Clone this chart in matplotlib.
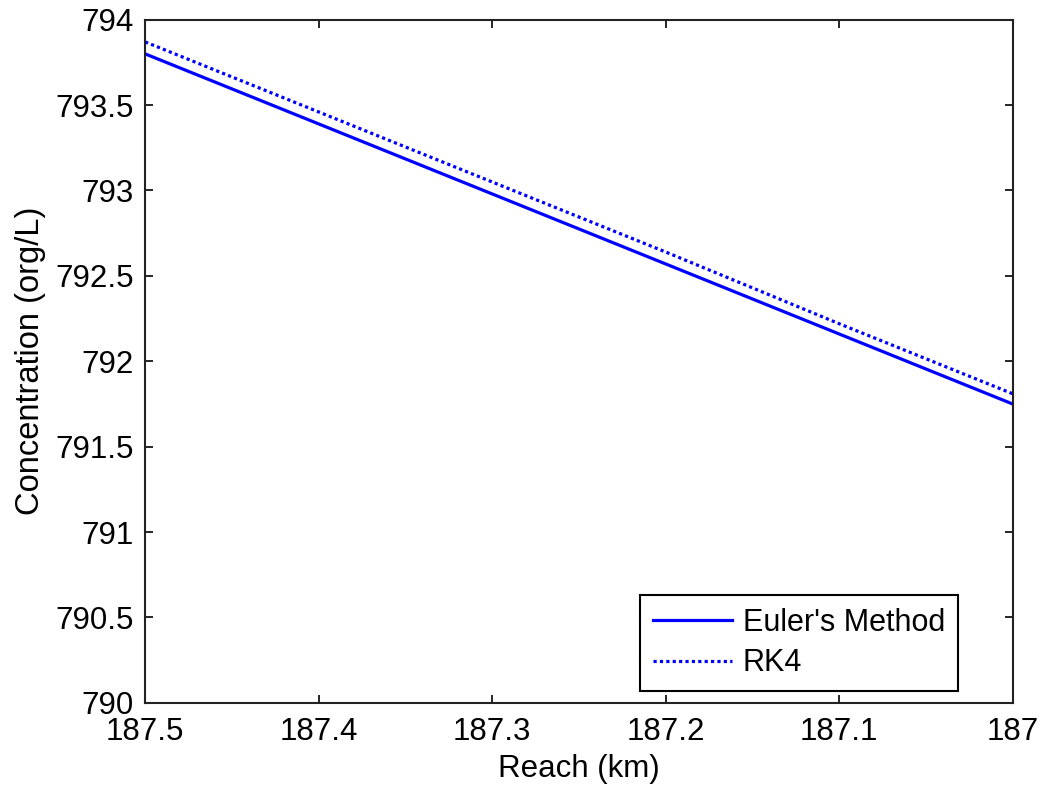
import matplotlib
matplotlib.use("Agg")
import matplotlib.pyplot as plt

plt.rcParams['font.family'] = ['Liberation Sans', 'DejaVu Sans']

reach_km = [187.5, 187.4, 187.3, 187.2, 187.1, 187.0]
euler = [793.80, 793.39, 792.98, 792.57, 792.16, 791.75]
rk4 = [793.87, 793.46, 793.05, 792.64, 792.22, 791.81]
xticks = [187.5, 187.4, 187.3, 187.2, 187.1, 187.0]
xticklabels = ['187.5', '187.4', '187.3', '187.2', '187.1', '187']
yticks = [790, 790.5, 791, 791.5, 792, 792.5, 793, 793.5, 794]
yticklabels = ['790', '790.5', '791', '791.5', '792', '792.5', '793', '793.5', '794']

fig = plt.figure(figsize=(10.44, 7.88), dpi=100)
ax = fig.add_axes([0.139, 0.108, 0.831, 0.867])

ax.plot(reach_km, euler, color='#0000ff', lw=2.3, label="Euler's Method")
ax.plot(reach_km, rk4, color='#0000ff', lw=2.3, linestyle=(0, (1, 1)), label='RK4')

ax.set_xlim(187.5, 187.0)
ax.set_ylim(790, 794)
ax.set_xticks(xticks)
ax.set_xticklabels(xticklabels)
ax.set_yticks(yticks)
ax.set_yticklabels(yticklabels)
ax.tick_params(direction='in', top=True, right=True, length=6, width=1.2,
               labelsize=22.5)
ax.tick_params(axis='x', pad=10)
ax.tick_params(axis='y', pad=8)
for s in ax.spines.values():
    s.set_linewidth(1.5)
    s.set_color('#222222')

ax.set_xlabel('Reach (km)', fontsize=22.5, labelpad=5)
ax.set_ylabel('Concentration (org/L)', fontsize=23.5, labelpad=7)

leg = ax.legend(loc='lower right', bbox_to_anchor=(0.937, 0.017), borderaxespad=0,
                fontsize=22, fancybox=False, edgecolor='black', framealpha=1,
                handlelength=2.6, handletextpad=0.35, labelspacing=0.35,
                borderpad=0.42)
leg.get_frame().set_linewidth(1.5)

fig.savefig('out.png', dpi=100)
